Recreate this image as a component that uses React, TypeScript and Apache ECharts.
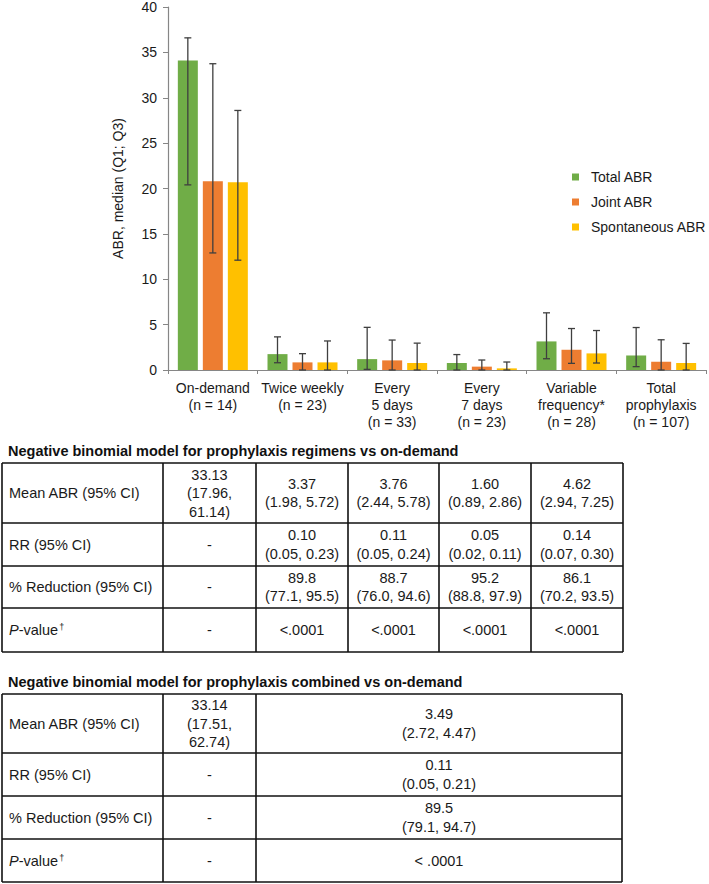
import React, { useEffect, useRef } from "react";
import * as echarts from "echarts";

const CATEGORIES = [
  "On-demand\n(n = 14)",
  "Twice weekly\n(n = 23)",
  "Every\n5 days\n(n = 33)",
  "Every\n7 days\n(n = 23)",
  "Variable\nfrequency*\n(n = 28)",
  "Total\nprophylaxis\n(n = 107)",
];
const SERIES_NAMES = ["Total ABR", "Joint ABR", "Spontaneous ABR"];
const SERIES_COLORS = ["#70AD47", "#ED7D31", "#FFC000"];

const totalMedian = [34.1, 1.75, 1.2, 0.77, 3.15, 1.6];
const totalQ1 = [20.4, 0.8, 0.07, 0.0, 1.24, 0.37];
const totalQ3 = [36.6, 3.65, 4.7, 1.7, 6.3, 4.68];
const jointMedian = [20.8, 0.84, 1.06, 0.37, 2.23, 0.91];
const jointQ1 = [12.9, 0, 0, 0, 0.73, 0];
const jointQ3 = [33.75, 1.8, 3.3, 1.1, 4.57, 3.33];
const spontMedian = [20.7, 0.84, 0.77, 0.18, 1.83, 0.77];
const spontQ1 = [12.1, 0, 0, 0, 0.77, 0];
const spontQ3 = [28.6, 3.2, 2.96, 0.88, 4.35, 2.93];

const Y_TITLE = "ABR, median (Q1; Q3)";

const TABLE1_TITLE = "Negative binomial model for prophylaxis regimens vs on-demand";
const TABLE2_TITLE = "Negative binomial model for prophylaxis combined vs on-demand";
const ROW_LABELS = ["Mean ABR (95% CI)", "RR (95% CI)", "% Reduction (95% CI)", "{i|P}-value{s|†}"];

const T1_MEAN = ["33.13\n(17.96,\n61.14)", "3.37\n(1.98, 5.72)", "3.76\n(2.44, 5.78)", "1.60\n(0.89, 2.86)", "4.62\n(2.94, 7.25)"];
const T1_RR = ["-", "0.10\n(0.05, 0.23)", "0.11\n(0.05, 0.24)", "0.05\n(0.02, 0.11)", "0.14\n(0.07, 0.30)"];
const T1_RED = ["-", "89.8\n(77.1, 95.5)", "88.7\n(76.0, 94.6)", "95.2\n(88.8, 97.9)", "86.1\n(70.2, 93.5)"];
const T1_P = ["-", "<.0001", "<.0001", "<.0001", "<.0001"];

const T2_MEAN = ["33.14\n(17.51,\n62.74)", "3.49\n(2.72, 4.47)"];
const T2_RR = ["-", "0.11\n(0.05, 0.21)"];
const T2_RED = ["-", "89.5\n(79.1, 94.7)"];
const T2_P = ["-", "< .0001"];

const FONT = "'Liberation Sans', Arial, sans-serif";
const TEXT_COLOR = "#1a1a1a";

function buildTable(cols: number[], rows: number[], cells: string[][]) {
  const els: any[] = [];
  const lw = 1.6;
  for (const x of cols) {
    els.push({ type: "line", shape: { x1: x, y1: rows[0], x2: x, y2: rows[rows.length - 1] }, style: { stroke: "#111", lineWidth: lw } });
  }
  for (const y of rows) {
    els.push({ type: "line", shape: { x1: cols[0], y1: y, x2: cols[cols.length - 1], y2: y }, style: { stroke: "#111", lineWidth: lw } });
  }
  for (let r = 0; r < rows.length - 1; r++) {
    const cy = (rows[r] + rows[r + 1]) / 2;
    els.push({
      type: "text",
      x: cols[0] + 7,
      y: cy,
      style: {
        text: ROW_LABELS[r],
        fill: TEXT_COLOR,
        font: `14.5px ${FONT}`,
        align: "left",
        verticalAlign: "middle",
        rich: {
          i: { fontStyle: "italic", fontSize: 14.5, fontFamily: FONT, fill: TEXT_COLOR },
          s: { fontSize: 9, fontFamily: FONT, fill: TEXT_COLOR, verticalAlign: "top", padding: [0, 0, 6, 1] },
        },
      },
    });
    const rowCells = cells[r];
    for (let c = 0; c < rowCells.length; c++) {
      const cx = (cols[c + 1] + cols[c + 2]) / 2;
      els.push({
        type: "text",
        x: cx,
        y: cy,
        style: {
          text: rowCells[c],
          fill: TEXT_COLOR,
          font: `14.5px ${FONT}`,
          align: "center",
          verticalAlign: "middle",
          lineHeight: 18.5,
        },
      });
    }
  }
  return els;
}

export default function App() {
  const ref = useRef<HTMLDivElement>(null);
  useEffect(() => {
    document.body.style.margin = "0";
    if (!ref.current) return;
    const chart = echarts.init(ref.current, null, { renderer: "svg" });
    const medians = [totalMedian, jointMedian, spontMedian];
    const q1s = [totalQ1, jointQ1, spontQ1];
    const q3s = [totalQ3, jointQ3, spontQ3];
    const offsets = [-25, 0, 25];

    const barSeries = SERIES_NAMES.map((name, i) => ({
      name,
      type: "bar",
      data: medians[i],
      barWidth: 20,
      barGap: "25%",
      itemStyle: { color: SERIES_COLORS[i] },
      z: 2,
    }));
    const errSeries = SERIES_NAMES.map((name, i) => ({
      name: name + " (Q1; Q3)",
      type: "custom",
      z: 5,
      data: CATEGORIES.map((_, k) => [k, q1s[i][k], q3s[i][k]]),
      encode: { x: 0, y: [1, 2] },
      renderItem: (params: any, api: any) => {
        const k = api.value(0);
        const lo = api.coord([k, api.value(1)]);
        const hi = api.coord([k, api.value(2)]);
        const x = lo[0] + offsets[i];
        const st = { stroke: "#3f3f3f", lineWidth: 1.3 };
        return {
          type: "group",
          children: [
            { type: "line", shape: { x1: x, y1: lo[1], x2: x, y2: hi[1] }, style: st },
            { type: "line", shape: { x1: x - 3.5, y1: hi[1], x2: x + 3.5, y2: hi[1] }, style: st },
            { type: "line", shape: { x1: x - 3.5, y1: lo[1], x2: x + 3.5, y2: lo[1] }, style: st },
          ],
        };
      },
    }));

    const t1Cols = [2, 163, 256, 348, 439, 531, 623];
    const t1Rows = [463, 523, 566, 608, 652];
    const t2Cols = [2, 163, 256, 622];
    const t2Rows = [694, 753, 796, 839, 882];

    const graphics: any[] = [
      { type: "text", x: 8, y: 451, style: { text: TABLE1_TITLE, fill: "#111", font: `bold 14.5px ${FONT}`, verticalAlign: "middle" } },
      ...buildTable(t1Cols, t1Rows, [T1_MEAN, T1_RR, T1_RED, T1_P]),
      { type: "text", x: 8, y: 682, style: { text: TABLE2_TITLE, fill: "#111", font: `bold 14.5px ${FONT}`, verticalAlign: "middle" } },
      ...buildTable(t2Cols, t2Rows, [T2_MEAN, T2_RR, T2_RED, T2_P]),
    ];

    chart.setOption({
      animation: false,
      textStyle: { fontFamily: FONT },
      grid: { left: 168, right: 3, top: 5.4, bottom: 514, containLabel: false },
      legend: {
        data: SERIES_NAMES,
        orient: "vertical",
        left: 567,
        top: 165,
        icon: "rect",
        itemWidth: 7,
        itemHeight: 7,
        itemGap: 11,
        textStyle: { fontSize: 14, color: TEXT_COLOR, fontFamily: FONT, lineHeight: 14, padding: [0, 0, 0, 7] },
      },
      xAxis: {
        type: "category",
        data: CATEGORIES,
        axisLine: { lineStyle: { color: "#868686", width: 1.2 } },
        axisTick: { show: true, length: 4, lineStyle: { color: "#868686" } },
        axisLabel: { fontSize: 14, color: TEXT_COLOR, lineHeight: 17, margin: 9, interval: 0, fontFamily: FONT },
      },
      yAxis: {
        type: "value",
        min: 0,
        max: 40,
        interval: 5,
        name: Y_TITLE,
        nameLocation: "middle",
        nameGap: 43,
        nameTextStyle: { fontSize: 14, color: TEXT_COLOR, fontFamily: FONT },
        axisLine: { show: true, lineStyle: { color: "#868686", width: 1.2 } },
        axisTick: { show: true, length: 5, lineStyle: { color: "#868686" } },
        splitLine: { show: false },
        axisLabel: { fontSize: 14, color: TEXT_COLOR, margin: 11, fontFamily: FONT },
      },
      series: [...barSeries, ...errSeries],
      graphic: { elements: graphics },
    });
    return () => chart.dispose();
  }, []);
  return <div ref={ref} style={{ width: 709, height: 884 }} />;
}
